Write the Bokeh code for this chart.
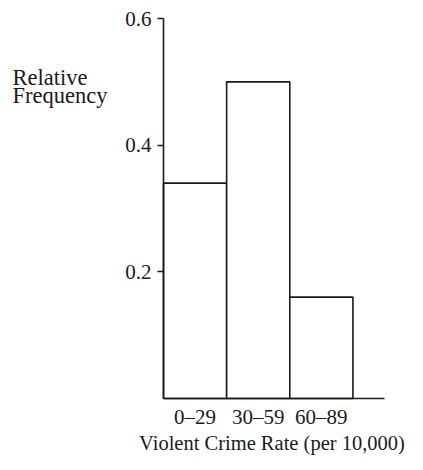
from bokeh.plotting import figure
from bokeh.models import FixedTicker, Label, Range1d
from bokeh.embed import file_html
from bokeh.resources import INLINE

# data
categories = ["0–29", "30–59", "60–89"]
left_edges = [0, 1, 2]
right_edges = [1, 2, 3]
rel_freq = [0.34, 0.50, 0.16]
y_ticks = [0.2, 0.4, 0.6]
x_tick_pos = [0.5, 1.5, 2.5]
x_axis_end = 3.5
y_axis_end = 0.6

FONT = "Liberation Serif"
INK = "#1a1a1a"
FS = "21px"

# layout plan (canvas pixels)
W, H = 407, 458
AX_X, AX_XEND = 163, 384      # y axis position, right end of x axis
AX_TOP, AX_BOT = 18, 398      # 0.6 level, 0 level
xs = (AX_XEND - AX_X) / x_axis_end
ys = (AX_BOT - AX_TOP) / y_axis_end
x_range = Range1d(-AX_X / xs, (W - AX_X) / xs)
y_range = Range1d(-(H - AX_BOT) / ys, y_axis_end + AX_TOP / ys)

p = figure(width=W, height=H, x_range=x_range, y_range=y_range,
           output_backend="svg", toolbar_location=None, min_border=0)
p.outline_line_color = None
p.grid.visible = False
p.background_fill_color = "white"
p.border_fill_color = "white"

p.quad(left=left_edges, right=right_edges, bottom=0, top=rel_freq,
       fill_color="white", line_color=INK, line_width=1.6)

# y axis
ya = p.yaxis[0]
ya.fixed_location = 0
ya.bounds = (0, y_axis_end)
ya.ticker = FixedTicker(ticks=y_ticks)
ya.major_label_overrides = {t: f"{t:.1f}" for t in y_ticks}
ya.minor_tick_line_color = None
ya.major_tick_in = 0
ya.major_tick_out = 6
ya.major_label_standoff = 6
ya.axis_line_color = INK
ya.axis_line_width = 1.6
ya.major_tick_line_color = INK
ya.major_tick_line_width = 1.4
ya.major_label_text_font = FONT
ya.major_label_text_font_size = FS
ya.major_label_text_color = INK

# x axis
xa = p.xaxis[0]
xa.fixed_location = 0
xa.bounds = (0, x_axis_end)
xa.ticker = FixedTicker(ticks=x_tick_pos)
xa.major_label_overrides = {x: c for x, c in zip(x_tick_pos, categories)}
xa.minor_tick_line_color = None
xa.major_tick_in = 0
xa.major_tick_out = 0
xa.major_tick_line_color = None
xa.major_label_standoff = 6
xa.axis_line_color = INK
xa.axis_line_width = 1.6
xa.major_label_text_font = FONT
xa.major_label_text_font_size = FS
xa.major_label_text_color = INK

# x axis title
p.add_layout(Label(x=x_axis_end / 2 - 2 / xs, y=-44 / ys,
                   text="Violent Crime Rate (per 10,000)", text_font=FONT,
                   text_font_size="20.5px", text_color=INK,
                   text_align="center", text_baseline="alphabetic"))

# y axis title, horizontal at upper left
for txt, py in [("Relative", 77), ("Frequency", 95)]:
    p.add_layout(Label(x=x_range.start + 12 / xs, y=y_range.end - py / ys,
                       text=txt, text_font=FONT, text_font_size="22.5px",
                       text_color=INK, text_align="left",
                       text_baseline="alphabetic"))

open("out.html", "w").write(file_html(p, INLINE))
